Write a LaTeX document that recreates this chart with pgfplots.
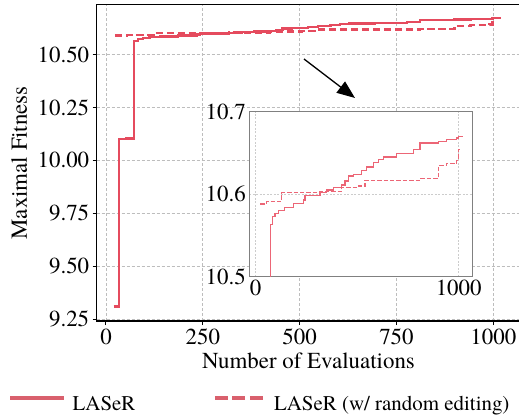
\documentclass[border=0pt]{standalone}
\usepackage{fontspec}
\setmainfont{TeX Gyre Termes}
\usepackage{pgfplots}
\usepackage{pgfplotstable}
\pgfplotsset{compat=1.18}
\usetikzlibrary{arrows.meta}
\definecolor{laser}{HTML}{E54B5E}
\definecolor{laserleg}{HTML}{D9606D}
\definecolor{laserin}{HTML}{EC6676}
\definecolor{gridc}{HTML}{BDBDBD}
\pgfplotsset{
  legimgA/.style={legend image code/.code={\draw[#1] (0bp,6.3bp) -- (54bp,6.3bp);}},
  legimgB/.style={legend image code/.code={\draw[#1] (0bp,6.3bp) -- (51bp,6.3bp);}},
}

\pgfplotstableread{
x y
20 9.31
33 10.100
52 10.103
72 10.563
82 10.573
95 10.577
112 10.580
141 10.584
186 10.589
235 10.593
243 10.598
317 10.602
350 10.605
383 10.608
424 10.611
440 10.616
456 10.622
481 10.624
522 10.629
547 10.633
580 10.638
604 10.642
629 10.645
695 10.649
777 10.654
810 10.662
900 10.664
941 10.666
990 10.668
998 10.670
1020 10.670
}\solid

\pgfplotstableread{
x y
23 10.588
54 10.591
128 10.602
317 10.603
424 10.608
506 10.610
539 10.617
810 10.619
900 10.635
941 10.637
990 10.641
998 10.654
1008 10.654
}\dashed

\begin{document}
\begin{tikzpicture}
\begin{axis}[
  at={(96.7bp,95bp)}, anchor=south west,
  width=423.7bp, height=316.3bp, scale only axis,
  xmin=-24, xmax=1070, ymin=9.242, ymax=10.734,
  xtick={0,250,500,750,1000},
  ytick={9.25,9.5,9.75,10,10.25,10.5},
  grid=major,
  major grid style={gridc, dash pattern=on 3bp off 2bp, line width=0.8bp},
  tick align=outside, major tick length=4bp,
  tick style={black, line width=1bp},
  xtick pos=left, ytick pos=left,
  axis line style={black, line width=1.2bp},
  tick label style={font=\fontsize{23}{27}\selectfont},
  label style={font=\fontsize{23}{27}\selectfont},
  /pgf/number format/assume math mode=true,
  x tick label style={/pgf/number format/1000 sep={}},
  y tick label style={/pgf/number format/fixed, /pgf/number format/fixed zerofill, /pgf/number format/precision=2},
  xlabel={Number of Evaluations},
  ylabel={Maximal Fitness},
  xlabel style={at={(axis description cs:0.5,-0.150)}, anchor=base},
  ylabel style={at={(axis description cs:-0.183,0.5)}, anchor=center},
  legend columns=2,
  legend cell align=left,
  legend style={draw=none, fill=none, at={(axis description cs:-0.209,-0.262)}, anchor=west,
    font=\fontsize{21}{25}\selectfont, inner sep=0pt, column sep=0pt,
    nodes={inner xsep=0pt, inner ysep=0pt},
    /tikz/every odd column/.append style={column sep=6.3bp},
    /tikz/every even column/.append style={column sep=77.4bp}},
]
\addplot[laser, line width=2.3bp, const plot, forget plot] table {\solid};
\addplot[laser, line width=2.3bp, const plot, dash pattern=on 7.5bp off 3.5bp, forget plot] table {\dashed};
\addlegendimage{laserleg, line width=4bp, legimgA}
\addlegendentry{LASeR}
\addlegendimage{laserleg, line width=4bp, dash pattern=on 13bp off 4.5bp, legimgB}
\addlegendentry{LASeR (w/ random editing)}
\end{axis}

\begin{axis}[
  at={(249.3bp,139.3bp)}, anchor=south west,
  width=223.4bp, height=165bp, scale only axis,
  xmin=-31.5, xmax=1069, ymin=10.5, ymax=10.7,
  xtick={0,1000}, ytick={10.5,10.6,10.7},
  grid=major,
  major grid style={black!20, dash pattern=on 2bp off 1.5bp, line width=0.5bp},
  axis background/.style={fill=white},
  axis line style={black!50, line width=0.9bp},
  major tick length=0pt,
  tick label style={font=\fontsize{23}{27}\selectfont},
  /pgf/number format/assume math mode=true,
  x tick label style={/pgf/number format/1000 sep={}},
  y tick label style={/pgf/number format/fixed, /pgf/number format/fixed zerofill, /pgf/number format/precision=1},
]
\addplot[laserin, line width=1.3bp, const plot] table {\solid};
\addplot[laserin, line width=1.3bp, const plot, dash pattern=on 4.4bp off 2bp] table {\dashed};
\end{axis}

\draw[line width=1.3bp, -{Triangle[length=18bp,width=14bp]}] (304bp,357bp) -- (355bp,318bp);

\pgfresetboundingbox
\path[use as bounding box] (0bp,0bp) rectangle (519bp,416bp);
\end{tikzpicture}
\end{document}
